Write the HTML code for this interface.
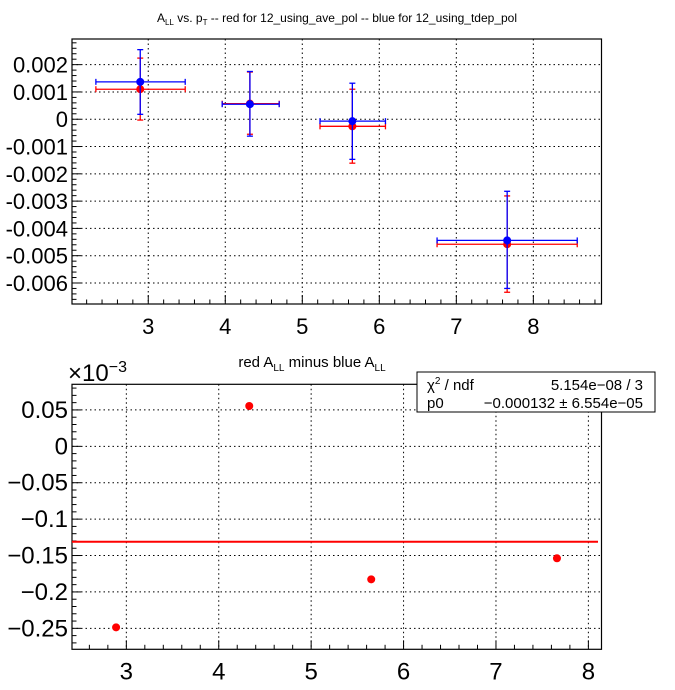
<!DOCTYPE html>
<html><head><meta charset="utf-8"><style>
body{margin:0;background:#fff;}
svg{display:block;font-family:"Liberation Sans",Arial,sans-serif;}
</style></head><body>
<svg id="c" width="675" height="690" viewBox="0 0 675 690">
<text x="337" y="22" font-size="12" text-anchor="middle">A<tspan font-size="8" dy="3">LL</tspan><tspan dy="-3"> vs. p</tspan><tspan font-size="8" dy="3">T</tspan><tspan dy="-3"> -- red for 12_using_ave_pol -- blue for 12_using_tdep_pol</tspan></text>
<text x="312" y="367" font-size="15" text-anchor="middle">red A<tspan font-size="10" dy="4">LL</tspan><tspan dy="-4"> minus blue A</tspan><tspan font-size="10" dy="4">LL</tspan></text>
<text x="68" y="381" font-size="24">×10<tspan font-size="16" dy="-9">−3</tspan></text>
<g id="top"></g><g id="bot"></g>
<g>
<rect x="417" y="372" width="238" height="40" fill="#fff" stroke="#000" stroke-width="1"/>
<text x="427" y="390" font-size="15">χ<tspan font-size="10" dy="-6">2</tspan><tspan dy="6"> / ndf</tspan></text>
<text x="643" y="390" font-size="15" text-anchor="end">5.154e−08 / 3</text>
<text x="427" y="408" font-size="15">p0</text>
<text x="643" y="408" font-size="15" text-anchor="end">−0.000132 ± 6.554e−05</text>
</g>
</svg>
<script>
// top chart data
const topX = [2.896, 4.32, 5.65, 7.66];
const topXLo = [2.32, 3.96, 5.23, 6.75];
const topXHi = [3.48, 4.70, 6.08, 8.57];
const redY = [0.0011, 0.00057, -0.00026, -0.00458];
const redYHi = [0.00224, 0.00173, 0.0011, -0.00281];
const redYLo = [-0.00003, -0.00055, -0.00161, -0.00634];
const blueY = [0.00137, 0.00055, -0.00007, -0.00444];
const blueYHi = [0.00255, 0.00175, 0.00132, -0.00264];
const blueYLo = [0.00018, -0.00062, -0.00147, -0.0062];
const topYTicks = [0.002, 0.001, 0, -0.001, -0.002, -0.003, -0.004, -0.005, -0.006];
const topYLabels = ["0.002","0.001","0","-0.001","-0.002","-0.003","-0.004","-0.005","-0.006"];
const topXTicks = [3,4,5,6,7,8];
// bottom chart data (x1e-3)
const diffX = [2.889, 4.33, 5.65, 7.66];
const diffY = [-0.2486, 0.0554, -0.1827, -0.1538];
const fitP0 = -0.131;
const botYTicks = [0.05, 0, -0.05, -0.1, -0.15, -0.2, -0.25];
const botYLabels = ["0.05","0","−0.05","−0.1","−0.15","−0.2","−0.25"];
const botXTicks = [3,4,5,6,7,8];

const NS="http://www.w3.org/2000/svg";
function mk(p,tag,a){const e=document.createElementNS(NS,tag);for(const k in a)e.setAttribute(k,a[k]);p.appendChild(e);return e;}

function axes(g,L,R,T,B,xmin,xmax,ymin,ymax,xt,yt,ylab,xminor,yminor,prefix,fs){
  const sx=v=>L+(v-xmin)/(xmax-xmin)*(R-L);
  const sy=v=>B-(v-ymin)/(ymax-ymin)*(B-T);
  xt.forEach(v=>{const l=mk(g,'line',{x1:sx(v),x2:sx(v),y1:T,y2:B,stroke:'#000','stroke-dasharray':'1.5,3','stroke-width':1});
    });
  yt.forEach(v=>{const l=mk(g,'line',{x1:L,x2:R,y1:sy(v),y2:sy(v),stroke:'#000','stroke-dasharray':'1.5,3','stroke-width':1});
    });
  for(let v=Math.ceil(xmin/xminor)*xminor; v<=xmax; v+=xminor){
    const maj=xt.some(t=>Math.abs(t-v)<1e-6);
    mk(g,'line',{x1:sx(v),x2:sx(v),y1:B,y2:B-(maj?9:4.5),stroke:'#000'});
  }
  for(let v=Math.ceil(ymin/yminor)*yminor; v<=ymax; v+=yminor){
    const maj=yt.some(t=>Math.abs(t-v)<1e-9);
    mk(g,'line',{x1:L,x2:L+(maj?9:4.5),y1:sy(v),y2:sy(v),stroke:'#000'});
  }
  xt.forEach(v=>{const t=mk(g,'text',{x:sx(v),y:B+30,'font-size':fs,'text-anchor':'middle'});t.textContent=v;
    });
  yt.forEach((v,i)=>{const t=mk(g,'text',{x:L-4,y:sy(v)+8,'font-size':fs,'text-anchor':'end'});t.textContent=ylab[i];
    });
  const f=mk(g,'rect',{x:L,y:T,width:R-L,height:B-T,fill:'none',stroke:'#000','stroke-width':1.2});
  
  return [sx,sy];
}

const gt=document.getElementById('top');
const [tx,ty]=axes(gt,72,601.5,39,304,2.01,8.885,-0.00677,0.00294,topXTicks,topYTicks,topYLabels,0.2,0.0002,'top',22);
function series(col,Y,Hi,Lo,name){
  topX.forEach((x,i)=>{
    const g=mk(gt,'g',{});
    
    
    const y=ty(Y[i]);
    mk(g,'line',{x1:tx(topXLo[i]),x2:tx(topXHi[i]),y1:y,y2:y,stroke:col,'stroke-width':1.3});
    mk(g,'line',{x1:tx(topXLo[i]),x2:tx(topXLo[i]),y1:y-3,y2:y+3,stroke:col,'stroke-width':1.3});
    mk(g,'line',{x1:tx(topXHi[i]),x2:tx(topXHi[i]),y1:y-3,y2:y+3,stroke:col,'stroke-width':1.3});
    mk(g,'line',{x1:tx(x),x2:tx(x),y1:ty(Hi[i]),y2:ty(Lo[i]),stroke:col,'stroke-width':1.3});
    mk(g,'line',{x1:tx(x)-3,x2:tx(x)+3,y1:ty(Hi[i]),y2:ty(Hi[i]),stroke:col,'stroke-width':1.3});
    mk(g,'line',{x1:tx(x)-3,x2:tx(x)+3,y1:ty(Lo[i]),y2:ty(Lo[i]),stroke:col,'stroke-width':1.3});
    mk(g,'circle',{cx:tx(x),cy:y,r:4,fill:col});
  });
}
series('#ff0000',redY,redYHi,redYLo,'red-ave-pol');
series('#0000ff',blueY,blueYHi,blueYLo,'blue-tdep-pol');

const gb=document.getElementById('bot');
const [bx,by]=axes(gb,72,601.5,384.3,649.3,2.412,8.142,-0.2788,0.0852,botXTicks,botYTicks,botYLabels,0.2,0.01,'bottom',24);
const fl=mk(gb,'line',{x1:72,x2:598,y1:by(fitP0),y2:by(fitP0),stroke:'#ff0000','stroke-width':2});


diffX.forEach((x,i)=>{
  const c=mk(gb,'circle',{cx:bx(x),cy:by(diffY[i]),r:4,fill:'#ff0000'});
  
  
});
</script>
</body></html>
